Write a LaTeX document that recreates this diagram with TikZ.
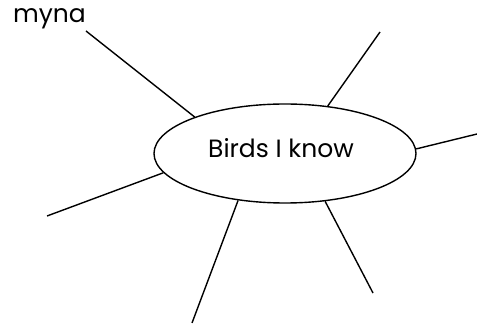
\documentclass[tikz,border=0pt]{standalone}
\usepackage{fontspec}
\setmainfont{Poppins}
\usetikzlibrary{shapes.geometric}

\begin{document}
\begin{tikzpicture}[x=1pt, y=-1pt, every node/.style={font=\fontsize{25}{29}\selectfont}, spoke/.style={line width=1.4pt}]
        % Fix the size of the page
        \useasboundingbox (0,0) rectangle (477,331);

        % Draw the central ellipse
        \node[ellipse, draw, line width=1.4pt, inner sep=0pt, minimum width=262pt, minimum height=99pt] (birds) at (285,153.5) {};
        \node (title) at (281,148) {Birds I know};

        % The one bird that is written in
        \node[anchor=base] (myna) at (49.5,22.7) {myna};

        % Free ends of the spokes
        \coordinate (e1) at (86,31);
        \coordinate (e2) at (380,32);
        \coordinate (e3) at (477,134);
        \coordinate (e4) at (47,216);
        \coordinate (e5) at (192,323);
        \coordinate (e6) at (373,293);

        % Draw the spokes from the ellipse
        \foreach \a/\e in {158.9/e1, 48.5/e2, 2.9/e3, 189.8/e4, 225.3/e5, 310.9/e6}
        {
          \draw[spoke] (birds.\a) -- (\e);
        }
      \end{tikzpicture}
\end{document}
